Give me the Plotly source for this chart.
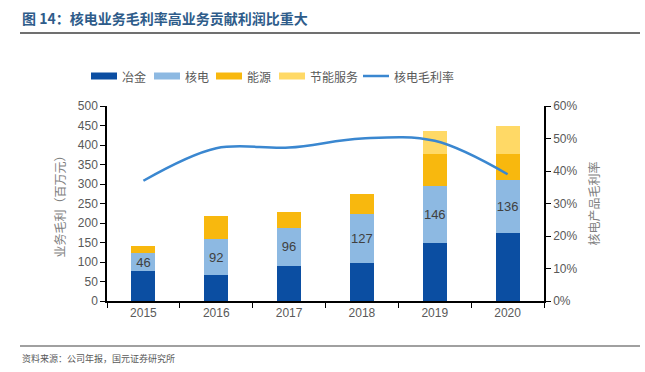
import plotly.graph_objects as go
from plotly.subplots import make_subplots

years = ["2015", "2016", "2017", "2018", "2019", "2020"]
metallurgy = [77, 66, 91, 97, 150, 174]
nuclear = [46, 92, 96, 127, 146, 136]
energy = [17, 60, 41, 50, 81, 67]
services = [0, 0, 0, 0, 58, 72]
nuclear_margin = [0.37, 0.47, 0.472, 0.50, 0.493, 0.39]

series_names = ["冶金", "核电", "能源", "节能服务"]
series_colors = ["#0B4EA2", "#8DB9E2", "#F8B80E", "#FFD966"]
line_name = "核电毛利率"
line_color = "#3A87D0"

FONT = "Arial, 'Liberation Sans', 'Noto Sans CJK SC', sans-serif"
CJK = "'Noto Sans CJK SC', sans-serif"

L, R, T, B = 107, 101, 106, 71
PW, PH = 645 - L - R, 372 - T - B


def px_x(x):
    return (x - L) / PW


def px_y(y):
    return (372 - B - y) / PH


fig = make_subplots(specs=[[{"secondary_y": True}]])

bar_w = 0.33
for name, vals, col in zip(series_names, [metallurgy, nuclear, energy, services], series_colors):
    kw = {}
    if name == "核电":
        kw = dict(text=[str(v) for v in vals], textposition="inside", textangle=0,
                  insidetextanchor="middle", constraintext="none",
                  textfont=dict(size=13, color="#404040", family=FONT))
    fig.add_trace(go.Bar(name=name, x=years, y=vals, marker_color=col, width=bar_w,
                         marker_line_width=0, showlegend=False, **kw), secondary_y=False)

fig.add_trace(go.Scatter(name=line_name, x=years, y=nuclear_margin, mode="lines",
                         showlegend=False,
                         line=dict(color=line_color, width=2.5, shape="spline", smoothing=1.0)),
              secondary_y=True)

# custom legend (wide swatches like the reference)
legend_items = [(series_names[0], series_colors[0], 91, "bar"),
                (series_names[1], series_colors[1], 154, "bar"),
                (series_names[2], series_colors[2], 216, "bar"),
                (series_names[3], series_colors[3], 279, "bar"),
                (line_name, line_color, 363, "line")]
shapes = []
annotations = []
ly = 76
for name, col, x0, kind in legend_items:
    if kind == "bar":
        shapes.append(dict(type="rect", xref="paper", yref="paper",
                           x0=px_x(x0), x1=px_x(x0 + 26), y0=px_y(ly - 3.5), y1=px_y(ly + 3.5),
                           fillcolor=col, line=dict(width=0)))
    else:
        shapes.append(dict(type="line", xref="paper", yref="paper",
                           x0=px_x(x0), x1=px_x(x0 + 26), y0=px_y(ly), y1=px_y(ly),
                           line=dict(color=col, width=2.5)))
    annotations.append(dict(text=name, xref="paper", yref="paper", x=px_x(x0 + 29), y=px_y(ly),
                            xanchor="left", yanchor="middle", showarrow=False,
                            font=dict(family=CJK, size=12, color="#595959")))

annotations.append(dict(text="<b>图 14：核电业务毛利率高业务贡献利润比重大</b>", xref="paper", yref="paper",
                        x=px_x(20), y=px_y(18), xanchor="left", yanchor="middle",
                        showarrow=False, font=dict(family=CJK, size=14, color="#2E5C8A")))
annotations.append(dict(text="资料来源：公司年报，国元证券研究所", xref="paper", yref="paper",
                        x=px_x(20), y=px_y(358), xanchor="left", yanchor="middle",
                        showarrow=False, font=dict(family=CJK, size=9, color="#595959")))
shapes.append(dict(type="line", xref="paper", yref="paper", x0=px_x(20), x1=px_x(640),
                   y0=px_y(33), y1=px_y(33), line=dict(color="#404040", width=1.5)))
shapes.append(dict(type="line", xref="paper", yref="paper", x0=px_x(20), x1=px_x(640),
                   y0=px_y(346), y1=px_y(346), line=dict(color="#808080", width=1.5)))

fig.update_layout(
    barmode="stack",
    width=645, height=372,
    margin=dict(l=L, r=R, t=T, b=B, autoexpand=False),
    paper_bgcolor="white", plot_bgcolor="white",
    font=dict(family=FONT, color="#595959", size=12),
    showlegend=False,
    annotations=annotations,
    shapes=shapes,
)

fig.update_xaxes(domain=[0, 1], showline=True, linecolor="black", linewidth=1.5, ticks="outside",
                 tickson="boundaries", ticklen=5, tickcolor="black", automargin=False,
                 tickfont=dict(size=12, color="#595959", family=FONT))
fig.update_yaxes(range=[0, 500], dtick=50, showgrid=False, showline=True, linecolor="black",
                 linewidth=1.5, ticks="outside", ticklen=5, tickcolor="black",
                 zeroline=False, automargin=False,
                 tickfont=dict(size=12, color="#595959", family=FONT),
                 title=dict(text="业务毛利（百万元）", font=dict(family=CJK, size=12, color="#7f7f7f"),
                            standoff=10),
                 secondary_y=False)
fig.update_yaxes(range=[0, 0.6], dtick=0.1, tickformat=".0%", showgrid=False, showline=True,
                 linecolor="black", linewidth=1.5, ticks="outside", ticklen=5, tickcolor="black",
                 zeroline=False, automargin=False,
                 tickfont=dict(size=12, color="#595959", family=FONT),
                 title=dict(text="核电产品毛利率", font=dict(family=CJK, size=12, color="#7f7f7f"),
                            standoff=14),
                 secondary_y=True)

fig.write_html("out.html", config={"displayModeBar": False},
               post_script="document.body.style.margin='0px';document.body.style.overflow='hidden';")
